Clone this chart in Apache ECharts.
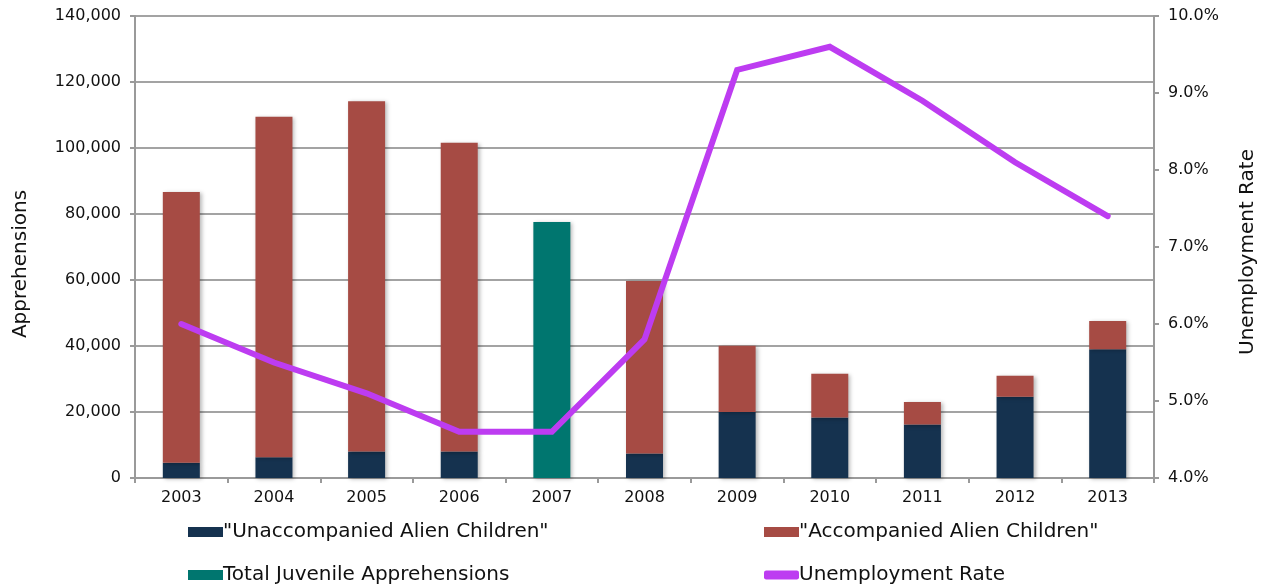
<!DOCTYPE html>
<html>
<head>
<meta charset="utf-8">
<script src="https://cdn.jsdelivr.net/npm/echarts@6/dist/echarts.min.js"></script>
<style>
  html, body { margin: 0; padding: 0; background: #fff; }
  #chart { width: 1266px; height: 584px; }
</style>
</head>
<body>
<div id="chart"></div>
<script>
// Fiscal years on the category axis
const years = ['2003', '2004', '2005', '2006', '2007', '2008', '2009', '2010', '2011', '2012', '2013'];

// Juvenile apprehensions (count)
const unaccompanied = [4600, 6300, 8000, 8000, null, 7400, 20000, 18300, 16200, 24600, 39000];
const accompanied   = [82100, 103200, 106200, 93600, null, 52300, 20100, 13300, 6800, 6400, 8600];
const totalJuvenile = [null, null, null, null, 77600, null, null, null, null, null, null];

// Unemployment rate (%)
const unemployment = [6.0, 5.5, 5.1, 4.6, 4.6, 5.8, 9.3, 9.6, 8.9, 8.1, 7.4];

// Legend labels
const nameUnacc = '"Unaccompanied Alien Children"';
const nameAcc = '"Accompanied Alien Children"';
const nameTotal = 'Total Juvenile Apprehensions';
const nameRate = 'Unemployment Rate';

const FONT = 'DejaVu Sans';
const TEXT = '#111';
const GRID_GREY = '#a3a3a3';

const barShadow = {
  shadowBlur: 4,
  shadowColor: 'rgba(0,0,0,0.28)',
  shadowOffsetX: 2,
  shadowOffsetY: 1
};

const legendBase = {
  orient: 'horizontal',
  itemWidth: 35,
  itemHeight: 10,
  itemGap: 0,
  selectedMode: false,
  textStyle: { fontFamily: FONT, fontSize: 20, color: TEXT, padding: [0, 0, 0, -5] }
};

const chart = echarts.init(document.getElementById('chart'), null, { renderer: 'canvas' });

chart.setOption({
  backgroundColor: '#ffffff',
  animation: false,
  textStyle: { fontFamily: FONT },
  grid: { left: 135, right: 106, top: 16, bottom: 106, containLabel: false },
  legend: [
    Object.assign({}, legendBase, { left: 183, top: 517, data: [{ name: nameUnacc, icon: 'rect' }] }),
    Object.assign({}, legendBase, { left: 759, top: 517, data: [{ name: nameAcc, icon: 'rect' }] }),
    Object.assign({}, legendBase, { left: 183, top: 560, data: [{ name: nameTotal, icon: 'rect' }] }),
    Object.assign({}, legendBase, { left: 759, top: 560, itemHeight: 9, data: [{ name: nameRate, icon: 'roundRect' }] })
  ],
  xAxis: {
    type: 'category',
    data: years,
    boundaryGap: true,
    axisLine: { lineStyle: { color: '#9a9a9a', width: 2 } },
    axisTick: { show: true, alignWithLabel: false, length: 5, lineStyle: { color: '#9a9a9a', width: 2 } },
    axisLabel: { fontFamily: FONT, fontSize: 16, color: TEXT, margin: 12 }
  },
  yAxis: [
    {
      type: 'value',
      min: 0,
      max: 140000,
      interval: 20000,
      name: 'Apprehensions',
      nameLocation: 'middle',
      nameRotate: 90,
      nameGap: 104,
      nameTextStyle: { fontFamily: FONT, fontSize: 20, color: TEXT, padding: [0, 34, 0, 0] },
      axisLine: { show: true, lineStyle: { color: '#9a9a9a', width: 2 } },
      axisTick: { show: true, length: 5, lineStyle: { color: '#9a9a9a', width: 2 } },
      axisLabel: {
        fontFamily: FONT, fontSize: 16, color: TEXT, margin: 14,
        formatter: v => v.toLocaleString('en-US')
      },
      splitLine: { show: true, lineStyle: { color: GRID_GREY, width: 2 } }
    },
    {
      type: 'value',
      min: 4,
      max: 10,
      interval: 1,
      position: 'right',
      name: 'Unemployment Rate',
      nameLocation: 'middle',
      nameRotate: 90,
      nameGap: 84,
      nameTextStyle: { fontFamily: FONT, fontSize: 20, color: TEXT, padding: [0, 10, 0, 0] },
      axisLine: { show: true, lineStyle: { color: '#9a9a9a', width: 2 } },
      axisTick: { show: true, length: 5, lineStyle: { color: '#9a9a9a', width: 2 } },
      axisLabel: {
        fontFamily: FONT, fontSize: 16, color: TEXT, margin: 14,
        formatter: v => v.toFixed(1) + '%'
      },
      splitLine: { show: false }
    }
  ],
  series: [
    {
      name: nameUnacc,
      type: 'bar',
      stack: 'juvenile',
      barWidth: 37,
      data: unaccompanied,
      itemStyle: Object.assign({ color: '#15324f' }, barShadow)
    },
    {
      name: nameAcc,
      type: 'bar',
      stack: 'juvenile',
      barWidth: 37,
      data: accompanied,
      itemStyle: Object.assign({ color: '#a64b44' }, barShadow)
    },
    {
      name: nameTotal,
      type: 'bar',
      stack: 'juvenile',
      barWidth: 37,
      data: totalJuvenile,
      itemStyle: Object.assign({ color: '#00766f' }, barShadow)
    },
    {
      name: nameRate,
      type: 'line',
      yAxisIndex: 1,
      data: unemployment,
      symbol: 'none',
      z: 5,
      itemStyle: { color: '#bd3cf1' },
      lineStyle: { color: '#bd3cf1', width: 6, cap: 'round', join: 'miter' }
    }
  ]
});
</script>
</body>
</html>
